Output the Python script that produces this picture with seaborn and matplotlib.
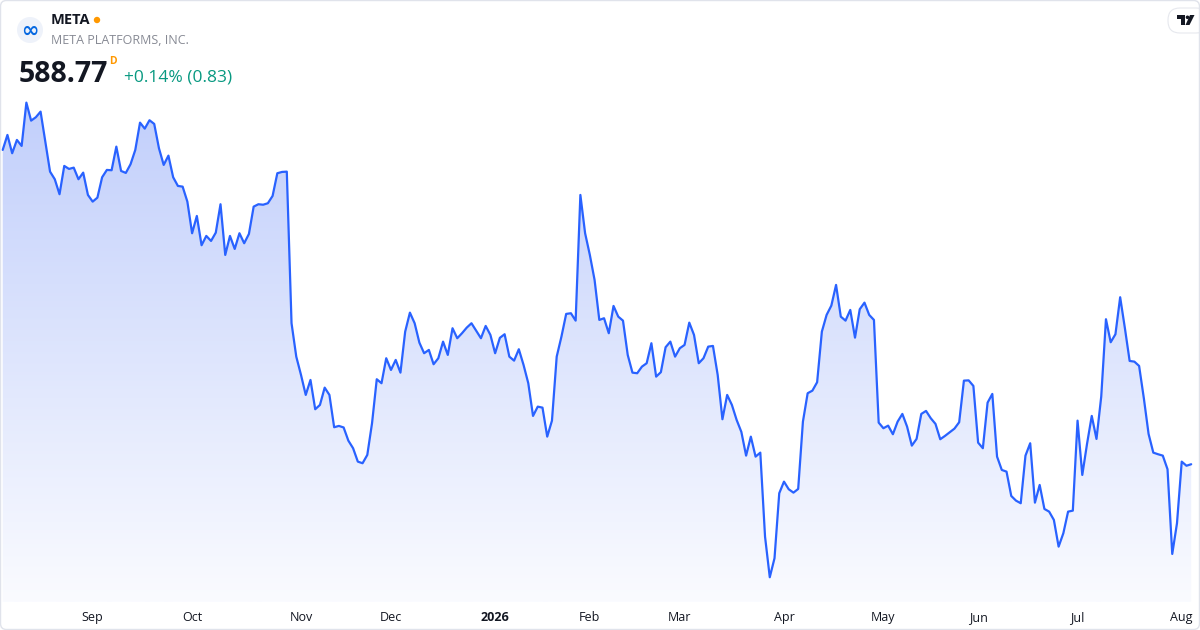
import numpy as np
import pandas as pd
import seaborn as sns
import matplotlib.pyplot as plt
from matplotlib.colors import LinearSegmentedColormap
from matplotlib.patches import Polygon, Circle, FancyBboxPatch, Rectangle
from matplotlib.transforms import IdentityTransform

# daily closes, Aug 5 2025 -> Aug 5 2026
closes = [
    761.64, 769.89, 759.82, 767.14, 763.84, 787.65, 777.75, 779.62, 782.70, 766.20, 749.70, 745.52,
    737.27, 752.84, 751.19, 751.90, 745.52, 749.15, 736.89, 733.20, 735.40, 746.62, 750.64, 750.47,
    763.45, 750.09, 748.99, 753.77, 761.64, 776.65, 773.35, 777.97, 775.94, 762.57, 753.39, 758.50,
    746.62, 741.84, 741.45, 733.20, 715.82, 725.34, 709.22, 714.34, 711.59, 716.15, 731.77, 703.89,
    714.34, 707.19, 715.82, 710.32, 715.44, 730.45, 731.77, 731.50, 732.32, 736.34, 748.82, 749.54,
    749.70, 666.32, 647.95, 637.89, 626.89, 635.14, 619.02, 621.39, 630.90, 626.89, 609.12, 609.84,
    609.00, 601.75, 597.57, 590.20, 589.32, 593.89, 611.32, 635.52, 633.32, 647.07, 640.64, 646.14,
    639.15, 661.70, 672.15, 666.32, 655.65, 649.82, 651.64, 643.77, 647.07, 656.20, 648.89, 663.57,
    658.07, 660.82, 663.90, 666.32, 662.25, 658.07, 664.84, 659.89, 649.82, 658.30, 660.27, 647.95,
    645.75, 652.02, 643.39, 633.32, 615.34, 620.45, 619.90, 603.95, 612.75, 647.95, 658.95, 671.44,
    671.82, 667.75, 736.89, 715.82, 703.89, 690.14, 668.14, 669.07, 660.82, 675.84, 669.95, 667.75,
    648.89, 639.15, 638.82, 642.45, 644.32, 655.32, 636.95, 639.40, 653.12, 656.20, 647.95, 652.57,
    654.39, 666.65, 659.89, 644.32, 647.07, 653.45, 653.84, 637.89, 613.52, 626.89, 621.39, 613.14,
    606.54, 593.50, 603.95, 592.95, 595.15, 548.95, 526.62, 537.07, 572.82, 579.20, 575.02, 573.15,
    575.18, 612.20, 627.82, 629.25, 633.87, 661.70, 670.89, 676.00, 687.39, 669.95, 667.75, 673.64,
    658.40, 674.02, 677.65, 670.89, 668.14, 611.65, 608.57, 610.00, 605.27, 612.20, 616.44, 609.45,
    599.00, 602.69, 616.44, 618.09, 614.07, 610.94, 602.52, 604.34, 606.37, 608.35, 611.87, 634.75,
    634.90, 631.84, 600.65, 597.57, 622.65, 627.44, 592.95, 585.63, 584.70, 571.33, 568.75, 567.32,
    593.50, 600.32, 567.65, 577.38, 564.18, 562.70, 558.13, 543.45, 550.82, 562.70, 563.25, 612.75,
    582.88, 599.94, 615.34, 602.69, 625.95, 668.52, 655.87, 660.27, 680.62, 663.57, 645.59, 645.20,
    642.84, 625.07, 605.44, 595.15, 594.27, 593.50, 586.02, 539.43, 556.32, 590.20, 587.94, 588.77,
]

# first trading day of each month (index into closes)
tick_idx = [19, 40, 63, 82, 104, 124, 143, 165, 186, 206, 227, 249]
tick_labels = ["Sep", "Oct", "Nov", "Dec", "2026", "Feb", "Mar", "Apr", "May", "Jun", "Jul", "Aug"]

symbol = "META"
company = "META PLATFORMS, INC."
last_price = "588.77"
change_txt = "+0.14% (0.83)"

sns.set_theme(style="white")
plt.rcParams['font.family'] = ['Open Sans', 'DejaVu Sans']

df = pd.DataFrame({"day": np.arange(len(closes)), "close": closes})

W, H = 1200, 630
fig = plt.figure(figsize=(12, 6.3), dpi=100, facecolor="white")
# plot area: pixel rows 80..602
ax = fig.add_axes([0, (H - 602) / H, 1, (602 - 80) / H])
ax.set_facecolor("none")

x0, x1 = -0.57, 252.86
y0, y1 = 513.0, 800.1
line_col = "#2962FF"

# gradient area under the line
cmap = LinearSegmentedColormap.from_list("area", ["#fafbff", "#bfcdfb"])
grad = np.linspace(0, 1, 256).reshape(-1, 1)
im = ax.imshow(grad, extent=[x0, x1, y0, y1], origin="lower", aspect="auto",
               cmap=cmap, zorder=1, interpolation="bilinear")
verts = [(0, y0)] + list(zip(df.day, df.close)) + [(len(closes) - 1, y0)]
clip = Polygon(verts, closed=True, facecolor="none", edgecolor="none", transform=ax.transData)
ax.add_patch(clip)
im.set_clip_path(clip)

sns.lineplot(data=df, x="day", y="close", color=line_col, linewidth=1.6, ax=ax, zorder=3)

ax.set_xlim(x0, x1)
ax.set_ylim(y0, y1)
ax.set_xlabel("")
ax.set_ylabel("")
ax.set_yticks([])
ax.set_xticks(tick_idx, tick_labels)
ax.tick_params(axis="x", length=0, pad=6.5, labelsize=9, labelcolor="#131722")
for lab in ax.get_xticklabels():
    if lab.get_text() == "2026":
        lab.set_fontweight("bold")
for s in ax.spines.values():
    s.set_visible(False)

# header, placed in pixel coords
def fx(x):
    return x / W

def fy(y):
    return 1 - y / H

pix = IdentityTransform()
fig.add_artist(Circle((30, H - 30), 13, facecolor="#eef2fa", edgecolor="none", transform=pix))
fig.text(fx(30), fy(31), "∞", color="#0668E1", fontsize=15, fontweight="bold",
         ha="center", va="center", family=["DejaVu Sans"])
fig.text(fx(51), fy(20), symbol, color="#131722", fontsize=10.5, fontweight="bold",
         ha="left", va="center")
fig.add_artist(Circle((97, H - 20), 3.2, facecolor="#FF9800", edgecolor="none", transform=pix))
fig.text(fx(51), fy(41), company, color="#878a94", fontsize=9, ha="left", va="center")
fig.text(fx(19), fy(82), last_price, color="#131722", fontsize=20.5, fontweight="bold",
         ha="left", va="baseline")
fig.text(fx(109), fy(61), "D", color="#FF9800", fontsize=7.5, fontweight="bold",
         ha="left", va="center")
fig.text(fx(124), fy(81), change_txt, color="#089981", fontsize=12.5, ha="left", va="baseline")

# TradingView badge top right
fig.add_artist(FancyBboxPatch((1168, H - 33), 40, 25, boxstyle="round,pad=0,rounding_size=12",
                              facecolor="white", edgecolor="#e6e8ee", linewidth=0.8, transform=pix))
fig.add_artist(Rectangle((1177, H - 19), 8, 4, facecolor="#131722", edgecolor="none", transform=pix))
fig.add_artist(Rectangle((1180.5, H - 25), 4, 10, facecolor="#131722", edgecolor="none", transform=pix))
fig.add_artist(Circle((1187.5, H - 17.3), 1.8, facecolor="#131722", edgecolor="none", transform=pix))
fig.add_artist(Polygon([(1190, H - 15), (1194.5, H - 15), (1189.5, H - 25), (1185.5, H - 25)],
                       closed=True, facecolor="#131722", edgecolor="none", transform=pix))

# outer frame
fig.add_artist(FancyBboxPatch((0.5, 0.5), W - 1, H - 1, boxstyle="round,pad=0,rounding_size=6",
                              facecolor="none", edgecolor="#e0e3eb", linewidth=1, transform=pix))

fig.savefig("out.png", dpi=100, facecolor="white")
